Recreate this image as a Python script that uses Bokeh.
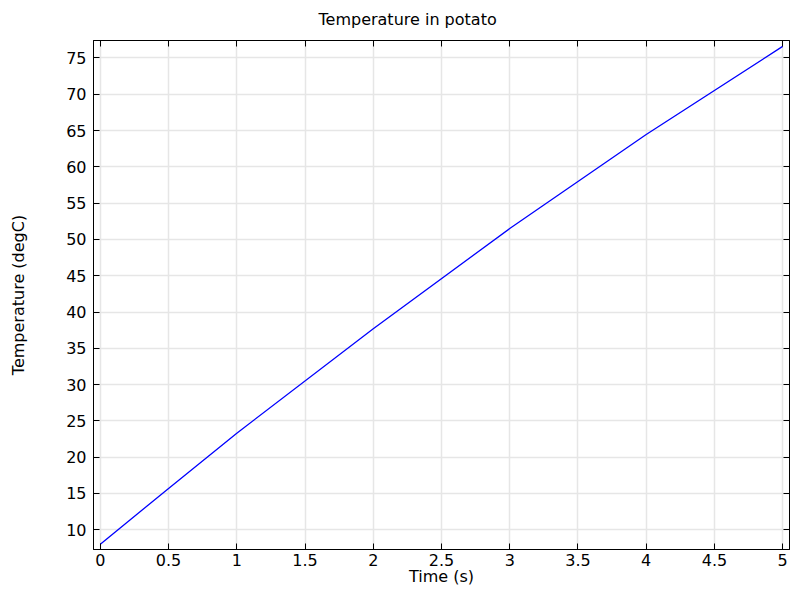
from bokeh.plotting import figure
from bokeh.models import LinearAxis, FixedTicker, NumeralTickFormatter, Range1d, CustomJSTickFormatter
from bokeh.embed import file_html
from bokeh.resources import INLINE

# Data
time_s = [0, 0.5, 1, 2, 3, 4, 5]
temp_c = [8.0, 15.7, 23.3, 37.7, 51.5, 64.45, 76.6]

x_ticks = [0, 0.5, 1, 1.5, 2, 2.5, 3, 3.5, 4, 4.5, 5]
y_ticks = [10, 15, 20, 25, 30, 35, 40, 45, 50, 55, 60, 65, 70, 75]

FONT = "DejaVu Sans"
FS = "16px"

p = figure(width=791, height=591, output_backend="svg", toolbar_location=None,
           x_range=Range1d(-0.05, 5.05), y_range=Range1d(7.28, 77.41),
           min_border_left=93, min_border_right=2, min_border_top=40, min_border_bottom=42,
           x_axis_label="Time (s)", y_axis_label="Temperature (degC)")

p.title.text = "Temperature in potato"
p.title.text_font = FONT
p.title.text_font_size = FS
p.title.text_font_style = "normal"
p.title.text_color = "black"
p.title.align = "left"
p.title.vertical_align = "top"
p.title.offset = 225
p.title.standoff = 19

p.outline_line_color = "black"
p.outline_line_width = 1
p.background_fill_color = "white"
p.border_fill_color = "white"

for ax in (p.xaxis[0], p.yaxis[0]):
    ax.axis_line_color = "black"
    ax.major_tick_in = 6
    ax.major_tick_out = 0
    ax.minor_tick_line_color = None
    ax.major_tick_line_color = "black"
    ax.major_label_text_font = FONT
    ax.major_label_text_font_size = FS
    ax.major_label_text_color = "black"
    ax.axis_label_text_font = FONT
    ax.axis_label_text_font_size = FS
    ax.axis_label_text_font_style = "normal"
    ax.axis_label_text_color = "black"
    ax.formatter = NumeralTickFormatter(format="0.[0]")

p.xaxis[0].ticker = FixedTicker(ticks=x_ticks)
p.yaxis[0].ticker = FixedTicker(ticks=y_ticks)
p.xaxis[0].major_label_standoff = 4
p.xaxis[0].axis_label_standoff = -2
p.yaxis[0].major_label_standoff = 7
p.yaxis[0].axis_label_standoff = 35

p.xgrid.ticker = FixedTicker(ticks=x_ticks)
p.ygrid.ticker = FixedTicker(ticks=y_ticks)
for g in (p.xgrid[0], p.ygrid[0]):
    g.grid_line_color = "#e6e6e6"
    g.grid_line_width = 1.5

def mirror(ticks):
    a = LinearAxis(ticker=FixedTicker(ticks=ticks),
                   formatter=CustomJSTickFormatter(code="return '';"))
    a.axis_line_color = "black"
    a.major_tick_in = 6
    a.major_tick_out = 0
    a.minor_tick_line_color = None
    a.major_label_standoff = 0
    a.major_label_text_font_size = "1px"
    return a

p.add_layout(mirror(x_ticks), "above")
p.add_layout(mirror(y_ticks), "right")

p.line(time_s, temp_c, line_color="#0000ff", line_width=1.3)

open("out.html", "w").write(file_html(p, INLINE))
